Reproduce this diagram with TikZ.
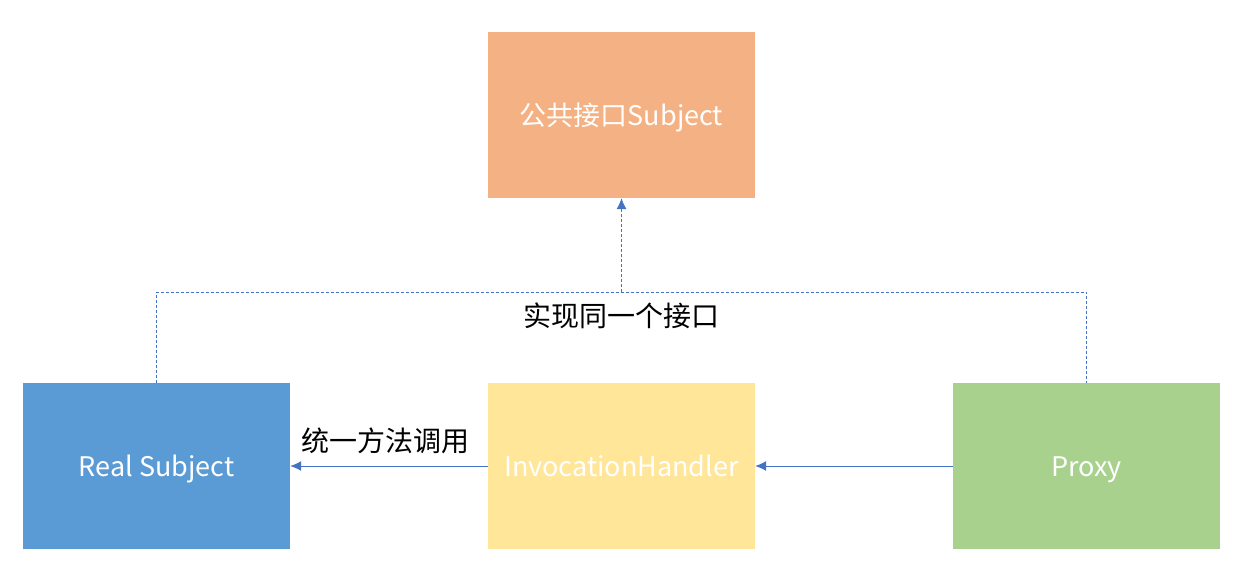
\documentclass[tikz,border=0pt]{standalone}
\usepackage{fontspec}
\setmainfont{Noto Sans CJK SC}
\usetikzlibrary{positioning,arrows.meta}

\definecolor{subjorange}{HTML}{F4B183}
\definecolor{realblue}{HTML}{5B9BD5}
\definecolor{handleryellow}{HTML}{FFE699}
\definecolor{proxygreen}{HTML}{A9D18E}
\definecolor{linkblue}{HTML}{4472C4}

\begin{document}
\begin{tikzpicture}[
x=1pt, y=-1pt,
block/.style={
  draw=none,
  minimum width=267pt,
  minimum height=166pt,
  inner sep=0pt,
  text=white,
  text height=22pt,
  text depth=2pt,
  font=\fontsize{27}{31}\selectfont
  },
note/.style={
  text=black,
  inner sep=0pt,
  font=\fontsize{28}{32}\selectfont
  },
iface/.style={
  draw=linkblue,
  line width=0.7pt,
  dash pattern=on 3pt off 2pt
  },
call/.style={
  draw=linkblue,
  line width=1pt
  },
>={Latex[length=11pt,width=10pt]}
]
\useasboundingbox (0,0) rectangle (1255,586);

\node[block, fill=subjorange] (subject) at (621.5,115) {公共接口Subject};
\node[block, fill=realblue] (real) at (156.5,466) {Real Subject};
\node[block, fill=handleryellow] (handler) at (621.5,466) {InvocationHandler};
\node[block, fill=proxygreen] (proxy) at (1086.5,466) {Proxy};

\coordinate (lc) at (156.5,292);
\coordinate (mc) at (621.5,292);
\coordinate (rc) at (1086.5,292);

\draw[iface] (real.north) -- (lc) -- (rc) -- (proxy.north);
\draw[iface,->] (mc) -- (subject.south);
\node[note] (same) at (621.5,316) {实现同一个接口};

\draw[call,->] (proxy.west) -- (handler.east);
\draw[call,->] (handler.west) -- (real.east);
\node[note] (unify) at (385,441) {统一方法调用};

\end{tikzpicture}
\end{document}
